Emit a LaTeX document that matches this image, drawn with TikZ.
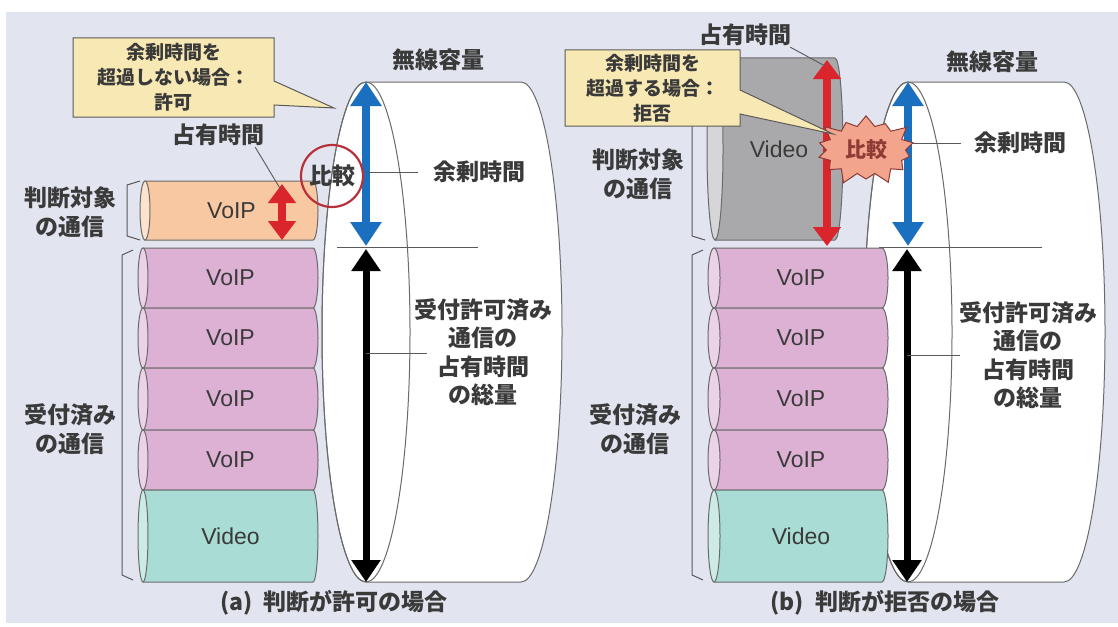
\documentclass[tikz,border=0pt]{standalone}
\usepackage{fontspec}
\setmainfont{Noto Sans CJK JP}
\newfontfamily\latf{Liberation Sans}
\usetikzlibrary{arrows.meta,shapes.symbols,shapes.callouts}
\definecolor{bgc}{HTML}{E2E4EF}
\definecolor{cyledge}{HTML}{6A6A6A}
\definecolor{leadc}{HTML}{5A5A5A}
\definecolor{txt}{HTML}{3A3A3A}
\definecolor{pinkbody}{HTML}{DDB1D4}
\definecolor{pinkface}{HTML}{EBD2E6}
\definecolor{tealbody}{HTML}{A8DCD4}
\definecolor{tealface}{HTML}{CDEBE6}
\definecolor{orbody}{HTML}{F8C8A2}
\definecolor{orface}{HTML}{FCE2CF}
\definecolor{grbody}{HTML}{A9A9AB}
\definecolor{grface}{HTML}{D6D6D8}
\definecolor{arrblue}{HTML}{1A6FBF}
\definecolor{arrred}{HTML}{D9252B}
\definecolor{circred}{HTML}{B8303A}
\definecolor{burstfill}{HTML}{F2A48C}
\definecolor{burstedge}{HTML}{8E3B36}
\definecolor{callfill}{HTML}{F8E9B4}
\newcommand\cylH[9]{%
  \pgfmathsetmacro\cylry{(#5-#4)/2}%
  \pgfmathsetmacro\cylmid{(#5+#4)/2}%
  \path[fill=#7, draw=cyledge, line width=1pt] (#2,#4) -- ({#3-#6},#4)
     arc[start angle=-90,end angle=90,x radius=#6,y radius=\cylry] -- (#2,#5) -- cycle;
  \path[fill=#8, draw=cyledge, line width=1pt] (#2,\cylmid) ellipse[x radius=#6, y radius=\cylry];
  \node[vtext] (#1) at ({(#2+#3)/2},\cylmid) {#9};
}
\begin{document}
\begin{tikzpicture}[x=1pt,y=-1pt,
  lbl/.style={text=txt, font=\fontsize{23}{28.5}\selectfont\bfseries, inner sep=1pt, align=center},
  calltext/.style={text=txt, font=\fontsize{19}{25}\selectfont\bfseries, align=center},
  vtext/.style={text=txt, font=\latf\fontsize{23}{28}\selectfont, inner sep=1pt},
  leader/.style={draw=leadc, line width=0.9pt},
  brk/.style={draw=leadc, line width=1pt},
  bigcyl/.style={fill=white, draw=cyledge, line width=1pt},
  bluearr/.style={draw=arrblue, line width=8pt, {Triangle[width=30pt,length=24pt]}-{Triangle[width=30pt,length=24pt]}},
  blackarr/.style={draw=black, line width=7pt, {Triangle[width=28pt,length=22pt]}-{Triangle[width=28pt,length=22pt]}},
  redarr/.style={draw=arrred, line width=8pt, {Triangle[width=27pt,length=19pt]}-{Triangle[width=27pt,length=19pt]}},
  callbox/.style={rectangle callout, draw=leadc, line width=1pt, fill=callfill, calltext, callout pointer width=24pt, inner sep=2pt}
]
\useasboundingbox (0,0) rectangle (1118,626);
\fill[white] (0,0) rectangle (1118,626);
\fill[bgc] (6,12) rectangle (1118,623);

% ---------- big capacity cylinders
\path[bigcyl] (366,82) -- (521,82) arc[start angle=-90,end angle=90,x radius=41,y radius=250]
   -- (366,582) arc[start angle=90,end angle=270,x radius=44,y radius=250] -- cycle;
\draw[cyledge, line width=1pt] (366,332) ellipse[x radius=44, y radius=250];
\path[bigcyl] (908,82) -- (1064,82) arc[start angle=-90,end angle=90,x radius=41,y radius=250]
   -- (908,582) arc[start angle=90,end angle=270,x radius=44,y radius=250] -- cycle;
\draw[cyledge, line width=1pt] (908,332) ellipse[x radius=44, y radius=250];

% separation lines
\coordinate (a-s1) at (337,247); \coordinate (a-s2) at (478,247);
\coordinate (b-s1) at (879,247); \coordinate (b-s2) at (1042,247);
\draw[leader] (a-s1) -- (a-s2);
\draw[leader] (b-s1) -- (b-s2);

% ---------- stacks (a)
\cylH{a-v1}{143}{318}{248}{308}{5}{pinkbody}{pinkface}{VoIP}
\cylH{a-v2}{143}{318}{308}{368}{5}{pinkbody}{pinkface}{VoIP}
\cylH{a-v3}{143}{318}{368}{430}{5}{pinkbody}{pinkface}{VoIP}
\cylH{a-v4}{143}{318}{430}{490}{5}{pinkbody}{pinkface}{VoIP}
\cylH{a-vd}{143}{318}{490}{582}{5}{tealbody}{tealface}{Video}
\cylH{a-req}{145}{318}{181}{240}{5}{orbody}{orface}{VoIP}
% ---------- stacks (b)
\cylH{b-v1}{714}{888}{248}{308}{6}{pinkbody}{pinkface}{VoIP}
\cylH{b-v2}{714}{888}{308}{368}{6}{pinkbody}{pinkface}{VoIP}
\cylH{b-v3}{714}{888}{368}{430}{6}{pinkbody}{pinkface}{VoIP}
\cylH{b-v4}{714}{888}{430}{490}{6}{pinkbody}{pinkface}{VoIP}
\cylH{b-vd}{714}{888}{490}{582}{6}{tealbody}{tealface}{Video}
\cylH{b-req}{715}{843}{58}{240}{8}{grbody}{grface}{Video}

% brackets
\draw[brk] (140,181) -- (127,185) -- (127,236) -- (140,240);
\draw[brk] (133,250) -- (122,255) -- (122,575) -- (133,580);
\draw[brk] (705,58) -- (692,62) -- (692,236) -- (705,240);
\draw[brk] (703,250) -- (692,255) -- (692,575) -- (703,580);

% ---------- arrows
\coordinate (a-bt) at (366,82);  \coordinate (a-bb) at (366,246);
\coordinate (a-kt) at (366,249); \coordinate (a-kb) at (366,582);
\coordinate (a-rt) at (282,184); \coordinate (a-rb) at (282,240);
\coordinate (b-bt) at (908,82);  \coordinate (b-bb) at (908,246);
\coordinate (b-kt) at (907,249); \coordinate (b-kb) at (907,582);
\coordinate (b-rt) at (827,60);  \coordinate (b-rb) at (827,246);
\draw[bluearr] (a-bt) -- (a-bb);
\draw[blackarr] (a-kt) -- (a-kb);
\draw[redarr] (a-rt) -- (a-rb);
\draw[bluearr] (b-bt) -- (b-bb);
\draw[blackarr] (b-kt) -- (b-kb);
\draw[redarr] (b-rt) -- (b-rb);

% ---------- labels (a)
\node[lbl] (a-cap) at (438,60) {無線容量};
\node[lbl] (a-yo) at (479,172) {余剰時間};
\node[lbl] (a-tot) at (483,352) {受付許可済み\\通信の\\占有時間\\の総量};
\node[lbl] (a-tgt) at (70,212) {判断対象\\の通信};
\node[lbl] (a-acc) at (70,429) {受付済み\\の通信};
\node[lbl] (a-sy) at (218,135) {占有時間};
\node[lbl] (a-fig) at (334,603) {(a)\hspace{0.5em}判断が許可の場合};
\coordinate (a-yop) at (366,172);
\coordinate (a-totp) at (366,353); \coordinate (a-tote) at (427,353);
\coordinate (a-syp) at (281,190);
\draw[leader] (a-yop) -- ([xshift=-14pt]a-yo.west);
\draw[leader] (a-totp) -- (a-tote);
\draw[leader] ([xshift=-10pt]a-sy.south east) -- (a-syp);
\node[circle, draw=circred, line width=2.2pt, minimum size=62pt, inner sep=0pt, lbl] (a-cmp) at (332,176) {比較};

% ---------- labels (b)
\node[lbl] (b-cap) at (992,62) {無線容量};
\node[lbl] (b-yo) at (1020,143) {余剰時間};
\node[lbl] (b-tot) at (1028,355) {受付許可済み\\通信の\\占有時間\\の総量};
\node[lbl] (b-tgt) at (638,174) {判断対象\\の通信};
\node[lbl] (b-acc) at (635,429) {受付済み\\の通信};
\node[lbl] (b-sy) at (745,35) {占有時間};
\node[lbl] (b-fig) at (885,603) {(b)\hspace{0.5em}判断が拒否の場合};
\coordinate (b-yop) at (908,143);
\coordinate (b-totp) at (907,355); \coordinate (b-tote) at (960,355);
\coordinate (b-syp) at (825,66);
\draw[leader] (b-yop) -- ([xshift=-12pt]b-yo.west);
\draw[leader] (b-totp) -- (b-tote);
\draw[leader] ([xshift=-2pt]b-sy.south east) -- (b-syp);
\node[starburst, starburst points=14, starburst point height=14pt, draw=burstedge, fill=burstfill,
      line width=1pt, inner sep=7pt,
      text=burstedge, font=\fontsize{21}{21}\selectfont\bfseries] (b-cmp) at (866,150) {比較};

% ---------- callouts
\coordinate (a-tip) at (334,108);
\coordinate (b-tip) at (833,134);
\node[callbox, minimum width=201pt, minimum height=79pt, callout absolute pointer={(a-tip)}] (a-call) at (173.5,77.5)
  {余剰時間を\\超過しない場合：\\許可};
\node[callbox, minimum width=175pt, minimum height=76pt, callout absolute pointer={(b-tip)}] (b-call) at (652.5,88)
  {余剰時間を\\超過する場合：\\拒否};
\end{tikzpicture}
\end{document}
